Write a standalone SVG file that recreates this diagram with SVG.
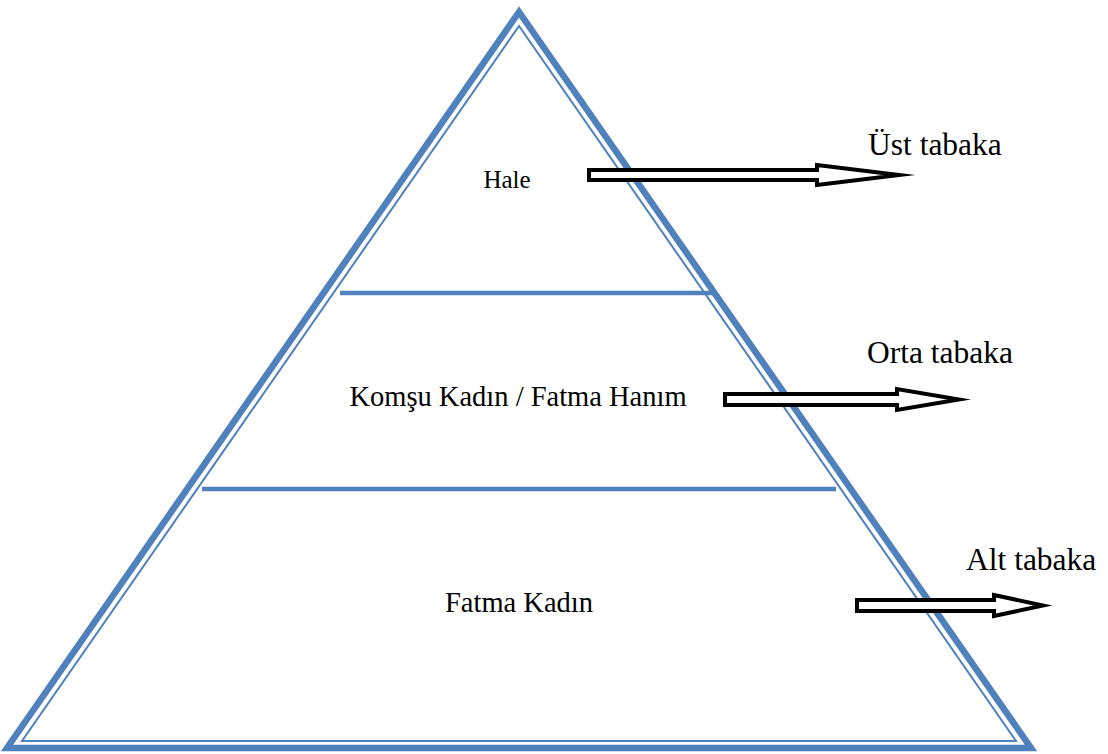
<svg xmlns="http://www.w3.org/2000/svg" width="1108" height="754" viewBox="0 0 1108 754">
  <style>
    .outer { fill: none; stroke: #4F81BD; stroke-width: 6.5; stroke-linejoin: miter; stroke-miterlimit: 10; }
    .inner { fill: none; stroke: #4F81BD; stroke-width: 2; stroke-linejoin: miter; stroke-miterlimit: 10; }
    .tier { stroke: #4F81BD; stroke-width: 4.5; }
    .blk { fill: #FFFFFF; stroke: #000000; stroke-width: 4; stroke-linejoin: miter; stroke-miterlimit: 10; }
    .lbl { font-family: "Liberation Serif", "Times New Roman", serif; fill: #000000; }
    .in { font-size: 28.5px; text-anchor: middle; }
    .side { font-size: 31.5px; }
  </style>
  <rect width="1108" height="754" fill="#FFFFFF"/>

  <!-- pyramid frame: thick outer line with thin inner line -->
  <g id="pyramid">
    <polygon class="outer" points="519,12 7,748 1031,748"/>
    <polygon class="inner" points="519,26 22,741 1016,741"/>
    <line class="tier" x1="340" y1="293" x2="717" y2="293"/>
    <line class="tier" x1="202" y1="489" x2="836" y2="489"/>
  </g>

  <!-- tier labels -->
  <g id="tier-top">
    <text class="lbl" x="507" y="188" font-size="25" text-anchor="middle">Hale</text>
  </g>
  <g id="tier-middle">
    <text class="lbl in" x="518" y="406">Komşu Kadın / Fatma Hanım</text>
  </g>
  <g id="tier-bottom">
    <text class="lbl in" x="519" y="612">Fatma Kadın</text>
  </g>

  <!-- block arrows pointing to the class names -->
  <g id="connectors">
    <polygon class="blk" points="589,170 817,170 817,165 899,175 817,185 817,180 589,180"/>
    <polygon class="blk" points="725,394 897,394 897,389 959,399.5 897,410 897,405 725,405"/>
    <polygon class="blk" points="857,600 994,600 994,595 1043,605.5 994,616 994,611 857,611"/>
  </g>

  <g id="class-upper">
    <text class="lbl side" x="868" y="155">Üst tabaka</text>
  </g>
  <g id="class-middle">
    <text class="lbl side" x="867" y="363">Orta tabaka</text>
  </g>
  <g id="class-lower">
    <text class="lbl side" x="966" y="570">Alt tabaka</text>
  </g>
</svg>
